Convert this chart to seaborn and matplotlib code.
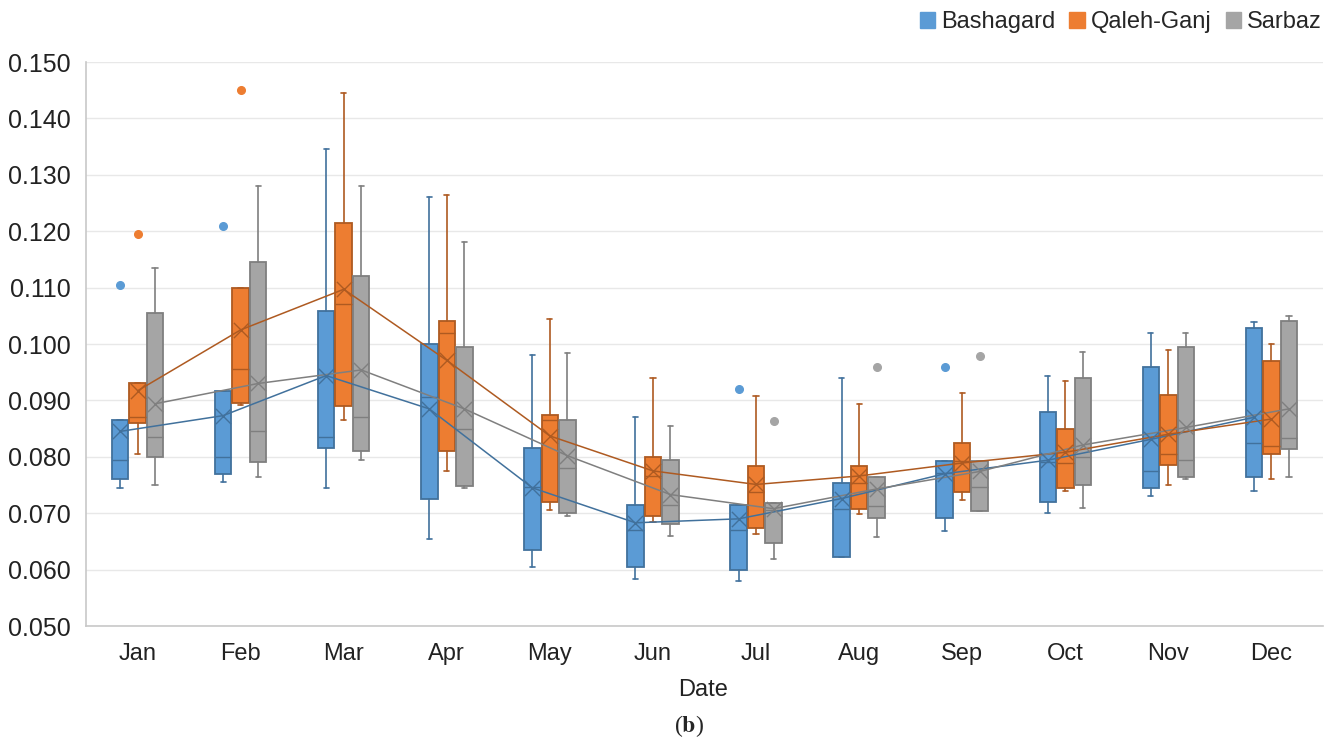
import numpy as np
import pandas as pd
import matplotlib
matplotlib.use("Agg")
import matplotlib.pyplot as plt
from matplotlib.patches import Patch
import seaborn as sns

months = ["Jan", "Feb", "Mar", "Apr", "May", "Jun", "Jul", "Aug", "Sep", "Oct", "Nov", "Dec"]
regions = ["Bashagard", "Qaleh-Ganj", "Sarbaz"]

# Bashagard
bas_low = [0.0745, 0.0755, 0.0745, 0.0655, 0.0604, 0.0584, 0.0580, 0.0622, 0.0668, 0.0700, 0.0730, 0.0740]
bas_q1 = [0.0760, 0.0769, 0.0815, 0.0725, 0.0634, 0.0604, 0.0600, 0.0622, 0.0692, 0.0720, 0.0744, 0.0764]
bas_med = [0.0794, 0.0800, 0.0835, 0.0906, 0.0746, 0.0670, 0.0670, 0.0707, 0.0772, 0.0791, 0.0775, 0.0824]
bas_q3 = [0.0865, 0.0916, 0.1059, 0.1000, 0.0815, 0.0715, 0.0715, 0.0754, 0.0793, 0.0879, 0.0960, 0.1029]
bas_high = [0.0865, 0.0916, 0.1345, 0.1260, 0.0980, 0.0870, 0.0715, 0.0939, 0.0793, 0.0944, 0.1020, 0.1039]
bas_mean = [0.0845, 0.0873, 0.0944, 0.0885, 0.0745, 0.0683, 0.0690, 0.0726, 0.0770, 0.0794, 0.0831, 0.0870]
bas_out = [[0.1105], [0.1210], [], [], [], [], [0.0920], [], [0.0959], [], [], []]

# Qaleh-Ganj
qal_low = [0.0805, 0.0892, 0.0865, 0.0775, 0.0706, 0.0685, 0.0663, 0.0698, 0.0723, 0.0740, 0.0750, 0.0760]
qal_q1 = [0.0860, 0.0895, 0.0890, 0.0810, 0.0720, 0.0695, 0.0673, 0.0708, 0.0738, 0.0744, 0.0785, 0.0805]
qal_med = [0.0870, 0.0955, 0.1071, 0.1020, 0.0865, 0.0766, 0.0738, 0.0753, 0.0792, 0.0789, 0.0805, 0.0820]
qal_q3 = [0.0930, 0.1100, 0.1215, 0.1040, 0.0875, 0.0800, 0.0783, 0.0783, 0.0824, 0.0850, 0.0909, 0.0970]
qal_high = [0.0930, 0.1100, 0.1445, 0.1265, 0.1044, 0.0940, 0.0908, 0.0893, 0.0914, 0.0935, 0.0990, 0.1000]
qal_mean = [0.0917, 0.1025, 0.1097, 0.0971, 0.0837, 0.0775, 0.0751, 0.0766, 0.0789, 0.0808, 0.0840, 0.0867]
qal_out = [[0.1195], [0.1450], [], [], [], [], [], [], [], [], [], []]

# Sarbaz
sar_low = [0.0750, 0.0765, 0.0795, 0.0745, 0.0695, 0.0660, 0.0618, 0.0658, 0.0704, 0.0710, 0.0760, 0.0765]
sar_q1 = [0.0800, 0.0790, 0.0810, 0.0749, 0.0700, 0.0680, 0.0648, 0.0692, 0.0704, 0.0750, 0.0764, 0.0814]
sar_med = [0.0835, 0.0845, 0.0870, 0.0850, 0.0780, 0.0715, 0.0706, 0.0713, 0.0746, 0.0800, 0.0794, 0.0834]
sar_q3 = [0.1055, 0.1145, 0.1120, 0.0995, 0.0865, 0.0794, 0.0718, 0.0764, 0.0793, 0.0939, 0.0994, 0.1040]
sar_high = [0.1135, 0.1280, 0.1280, 0.1180, 0.0984, 0.0854, 0.0718, 0.0764, 0.0793, 0.0985, 0.1020, 0.1050]
sar_mean = [0.0894, 0.0930, 0.0954, 0.0885, 0.0802, 0.0733, 0.0708, 0.0743, 0.0774, 0.0821, 0.0852, 0.0885]
sar_out = [[], [], [], [], [], [], [0.0864], [0.0959], [0.0979], [], [], []]

series = {
    "Bashagard": (bas_low, bas_q1, bas_med, bas_q3, bas_high, bas_mean, bas_out),
    "Qaleh-Ganj": (qal_low, qal_q1, qal_med, qal_q3, qal_high, qal_mean, qal_out),
    "Sarbaz": (sar_low, sar_q1, sar_med, sar_q3, sar_high, sar_mean, sar_out),
}

fills = {"Bashagard": "#5B9BD5", "Qaleh-Ganj": "#ED7D31", "Sarbaz": "#A5A5A5"}
edges = {"Bashagard": "#41719C", "Qaleh-Ganj": "#AE5A21", "Sarbaz": "#7F7F7F"}
offsets = {"Bashagard": -0.17, "Qaleh-Ganj": 0.0, "Sarbaz": 0.17}

sns.set_theme(style="white")
plt.rcParams["font.family"] = ["Liberation Sans", "DejaVu Sans"]

fig = plt.figure(figsize=(13.34, 7.42), dpi=100)
ax = fig.add_axes([86 / 1334, 1 - 626 / 742, (1323 - 86) / 1334, (626 - 62) / 742])

x = np.arange(len(months))
rows = []
for reg, (lo, q1, med, q3, hi, mn, out) in series.items():
    stats = []
    for i in range(len(months)):
        stats.append(dict(whislo=lo[i], q1=q1[i], med=med[i], q3=q3[i], whishi=hi[i],
                          mean=mn[i], fliers=out[i]))
    ec = edges[reg]
    ax.bxp(stats, positions=x + offsets[reg], widths=0.16, capwidths=0.05,
           patch_artist=True, showmeans=False, showfliers=True, manage_ticks=False,
           boxprops=dict(facecolor=fills[reg], edgecolor=ec, linewidth=1.3),
           medianprops=dict(color=ec, linewidth=1.0),
           whiskerprops=dict(color=ec, linewidth=1.2),
           capprops=dict(color=ec, linewidth=1.2),
           flierprops=dict(marker="o", markerfacecolor=fills[reg], markeredgecolor=fills[reg],
                           markersize=5.5), zorder=3)
    for i in range(len(months)):
        rows.append(dict(pos=x[i] + offsets[reg], mean=mn[i], region=reg))

df = pd.DataFrame(rows)
sns.lineplot(data=df, x="pos", y="mean", hue="region", palette=edges,
             ax=ax, linewidth=1.1, legend=False, zorder=4, estimator=None, sort=True)
for reg in regions:
    d = df[df.region == reg]
    ax.scatter(d["pos"], d["mean"], marker="x", s=120, color=edges[reg], linewidths=1.0, zorder=5)

ax.set_xlim(-0.5, 11.5)
ax.set_ylim(0.050, 0.150)
yt = np.arange(0.050, 0.1501, 0.010)
ax.set_yticks(yt)
ax.set_yticklabels([f"{v:.3f}" for v in yt], fontsize=18, color="#222222")
ax.set_xticks(x)
ax.set_xticklabels(months, fontsize=17, color="#222222")
ax.tick_params(axis="y", length=0, pad=11)
ax.tick_params(axis="x", length=0, pad=12)
ax.grid(axis="y", color="#E8E8E8", linewidth=1.0, zorder=0)
ax.set_axisbelow(True)
for s in ["top", "right"]:
    ax.spines[s].set_visible(False)
for s in ["left", "bottom"]:
    ax.spines[s].set_color("#C8C8C8")
    ax.spines[s].set_linewidth(1.2)
ax.set_xlabel("")
ax.set_ylabel("")

fig.text(703 / 1334, 1 - 690 / 742, "Date", ha="center", va="center", fontsize=17, color="#222222")
fig.text(689 / 1334, 1 - 726 / 742, r"($\mathbf{b}$)", ha="center", va="center", fontsize=17,
         family=["Liberation Serif", "DejaVu Serif"], math_fontfamily="stix")

handles = [Patch(facecolor=fills[r], edgecolor=fills[r], label=r) for r in regions]
fig.legend(handles=handles, loc="center right", bbox_to_anchor=(1331 / 1334, 1 - 22 / 742),
           ncol=3, frameon=False, fontsize=17, handlelength=0.65, handleheight=0.65,
           handletextpad=0.25, columnspacing=0.6, borderaxespad=0)

fig.savefig("out.png", dpi=100)
